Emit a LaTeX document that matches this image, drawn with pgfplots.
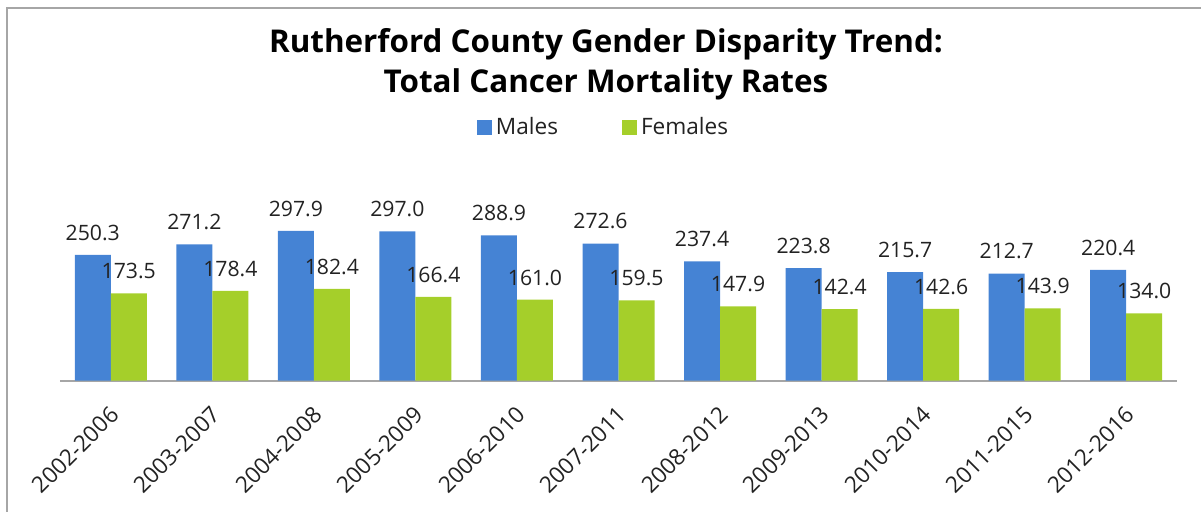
\documentclass[border=0pt]{standalone}
\usepackage{fontspec}
\setmainfont{Open Sans}
\usepackage{pgfplots}
\pgfplotsset{compat=1.18}
\definecolor{males}{HTML}{4583D4}
\definecolor{females}{HTML}{A5CF2A}
\definecolor{frame}{HTML}{A6A6A6}
\definecolor{txt}{HTML}{222222}

\begin{document}
\begin{tikzpicture}
\useasboundingbox (-30pt,-65.65pt) rectangle (570.5pt,190.35pt);
\draw[frame,line width=1.3pt] (-26.5pt,-70pt) -- (-26.5pt,186.35pt) -- (575pt,186.35pt);
\begin{axis}[
  at={(0,0)},anchor=south west,
  scale only axis,width=558.5pt,height=83pt,
  xmin=-0.5,xmax=10.5,ymin=0,ymax=330,
  clip=false,
  axis y line=none,axis x line*=bottom,
  axis line style={draw=frame,line width=1pt},
  ybar=0pt,bar width=18pt,
  xtick={0,1,2,3,4,5,6,7,8,9,10},
  xticklabels={2002-2006,2003-2007,2004-2008,2005-2009,2006-2010,2007-2011,2008-2012,2009-2013,2010-2014,2011-2015,2012-2016},
  major tick length=0pt,
  x tick label style={yshift=-15pt,xshift=2pt,rotate=45,anchor=east,inner sep=0pt,
    font=\fontsize{11.3pt}{13pt}\selectfont,text=txt},
  nodes near coords={\pgfmathprintnumber[fixed,fixed zerofill,precision=1,assume math mode=true]{\pgfplotspointmeta}},
  every node near coord/.append style={font=\fontsize{10.6pt}{12pt}\selectfont,
    text=txt,anchor=south,inner sep=0pt,yshift=7pt},
  legend columns=2,
  legend style={draw=none,fill=none,at={(0.4875,1.528)},anchor=center,
    font=\fontsize{11.3pt}{13pt}\selectfont,text=txt,
    /tikz/every even column/.append style={column sep=30pt}},
  legend image code/.code={\fill (0pt,-3.75pt) rectangle (7.5pt,3.75pt);},
]
\addplot[fill=males,draw=none] coordinates {
  (0,250.3) (1,271.2) (2,297.9) (3,297.0) (4,288.9) (5,272.6)
  (6,237.4) (7,223.8) (8,215.7) (9,212.7) (10,220.4)
};
\addplot[fill=females,draw=none] coordinates {
  (0,173.5) (1,178.4) (2,182.4) (3,166.4) (4,161.0) (5,159.5)
  (6,147.9) (7,142.4) (8,142.6) (9,143.9) (10,134.0)
};
\legend{Males,Females}
\end{axis}
\node[anchor=base,font=\bfseries\fontsize{15.7pt}{18pt}\selectfont] at (273pt,163.85pt) {Rutherford County Gender Disparity Trend:};
\node[anchor=base,font=\bfseries\fontsize{15.7pt}{18pt}\selectfont] at (273pt,143.85pt) {Total Cancer Mortality Rates};
\end{tikzpicture}
\end{document}
